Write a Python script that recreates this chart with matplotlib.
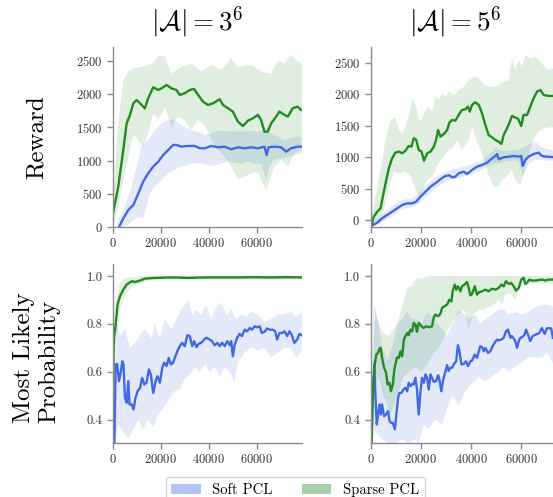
import numpy as np
import matplotlib
matplotlib.use('Agg')
import matplotlib.pyplot as plt
from matplotlib.patches import Patch

plt.rcParams['font.family'] = 'serif'
plt.rcParams['font.serif'] = ['cmr10']
plt.rcParams['mathtext.fontset'] = 'cm'
plt.rcParams['axes.formatter.use_mathtext'] = True

BLUE = 'royalblue'
GREEN = 'forestgreen'

# ---- Reward, |A| = 3^6 ----
r3_sparse_x = [0, 2200, 4300, 5700, 7100, 8500, 9900, 11300, 13300, 14700, 16800, 18900, 20300, 22400, 24400,
               26500, 27900, 30000, 32100, 33900, 35600, 37600, 39700, 41800, 44600, 46000, 48100, 50100, 52200,
               54300, 56400, 58500, 60600, 61900, 63300, 64700, 66100, 68200, 69600, 71700, 73100, 75100, 77200, 78600]
r3_sparse_y = [206, 607, 1160, 1561, 1687, 1862, 1912, 1862, 1787, 1938, 2103, 2063, 2088, 2138, 2088,
               2063, 1988, 2013, 2063, 2078, 1988, 1887, 1837, 1862, 1923, 1837, 1787, 1737, 1586,
               1521, 1601, 1637, 1687, 1611, 1436, 1436, 1561, 1662, 1737, 1687, 1662, 1787, 1812, 1762]
r3_sparse_hi_x = [0, 2200, 4300, 6400, 8500, 11900, 16100, 19600, 21700, 24400, 28600, 32800, 36900, 41100, 45300,
                  49400, 52200, 57800, 61900, 66100, 68900, 71700, 74400, 77200, 78900]
r3_sparse_hi_y = [400, 1560, 2210, 2340, 2390, 2410, 2460, 2590, 2565, 2310, 2410, 2460, 2340, 2440, 2360,
                  2540, 2410, 2440, 2340, 2310, 2515, 2460, 2590, 2490, 2460]
r3_sparse_lo_x = [0, 2200, 4300, 6400, 7800, 9200, 10600, 12600, 14700, 16800, 18900, 21700, 24400, 27200, 30000,
                  32800, 35600, 38300, 41100, 43900, 46700, 49400, 52200, 55000, 57800, 60600, 62600, 64000, 65400,
                  67500, 70300, 73100, 75800, 78900]
r3_sparse_lo_y = [0, 306, 708, 1060, 1310, 1385, 1285, 1210, 1410, 1710, 1610, 1810, 1510, 1660, 1610,
                  1460, 1610, 1540, 1310, 1160, 1060, 910, 710, 760, 810, 830, 660, 560, 710,
                  910, 1010, 910, 1110, 1160]

r3_soft_x = [2500, 4300, 6400, 8500, 10600, 12600, 14700, 16800, 18900, 21000, 23100, 25100, 26500, 28600, 31400,
             34200, 36300, 38300, 41100, 43900, 46700, 49400, 52200, 55000, 57800, 60600, 63300, 64200, 65000,
             67500, 70300, 72400, 74400, 77200, 78900]
r3_soft_y = [0, 130, 256, 331, 507, 683, 808, 909, 984, 1084, 1160, 1235, 1235, 1210, 1220,
             1220, 1185, 1185, 1220, 1200, 1210, 1170, 1200, 1185, 1200, 1185, 1210, 1084, 1200,
             1210, 1200, 1134, 1185, 1210, 1210]
r3_soft_hi_x = [2200, 5000, 7800, 9900, 11900, 14700, 17500, 20300, 23100, 25100, 27200, 30000, 32800, 35600, 38300,
                41100, 43900, 46700, 49400, 52200, 55000, 57800, 60600, 63300, 66100, 68900, 71700, 74400, 77200, 78900]
r3_soft_hi_y = [105, 306, 607, 909, 1210, 1310, 1461, 1561, 1611, 1621, 1561, 1501, 1461, 1436, 1385,
                1410, 1451, 1451, 1436, 1436, 1436, 1451, 1436, 1461, 1410, 1360, 1310, 1335, 1360, 1360]
r3_soft_lo_x = [2200, 5000, 7800, 10600, 12600, 14000, 15400, 17500, 20300, 23100, 25800, 28600, 31400, 34200, 36900,
                39700, 42500, 45300, 48100, 50800, 53600, 56400, 59200, 61900, 64000, 65400, 67500, 70300, 73100,
                75800, 78900]
r3_soft_lo_y = [0, 0, 80, 155, 130, 306, 507, 607, 708, 808, 858, 909, 934, 959, 959,
                934, 919, 959, 984, 969, 949, 984, 949, 959, 708, 934, 1009, 1034, 1059,
                1084, 1109]

# ---- Reward, |A| = 5^6 ----
r5_sparse_x = [400, 1300, 2700, 4000, 4900, 6000, 7300, 8600, 9900, 11300, 12600, 13900, 15200, 16300, 17200,
               18200, 19200, 20300, 21300, 22500, 23900, 25200, 26100, 26900, 27800, 29200, 30500, 31400, 32500,
               33800, 35100, 36400, 37800, 38800, 39500, 40400, 41700, 43100, 44400, 45700, 47000, 48400, 49700,
               51000, 52100, 53000, 54300, 55300, 56300, 57400, 58700, 60000, 60900, 62300, 63600, 64900, 66300,
               67600, 68900, 70900, 72600, 73500]
r5_sparse_y = [-80, 53, 133, 186, 371, 583, 822, 981, 1071, 1087, 1060, 1102, 1177, 1166, 1299,
               1272, 1113, 1087, 943, 1060, 1087, 1166, 1272, 1431, 1325, 1367, 1431, 1548, 1590,
               1579, 1670, 1749, 1760, 1802, 1722, 1829, 1871, 1829, 1696, 1510, 1351, 1314, 1272,
               1245, 1208, 1351, 1457, 1548, 1654, 1632, 1611, 1495, 1670, 1670, 1802, 1934, 2040,
               2067, 1988, 1972, 1972, 1972]
r5_sparse_hi_x = [400, 2000, 4000, 6000, 8000, 9900, 11300, 12600, 13900, 15200, 16600, 17900, 19200, 20500, 21900,
                  23200, 24500, 25800, 27200, 28500, 29800, 31100, 33100, 35100, 37100, 39100, 41700, 43700, 45700,
                  47700, 49700, 52300, 55000, 56300, 57600, 59000, 60300, 61600, 63600, 65600, 68200, 70200, 73500]
r5_sparse_hi_y = [53, 371, 795, 1272, 1590, 1632, 1431, 1378, 1484, 1643, 1935, 1855, 1590, 1590, 1749,
                  1802, 1722, 1961, 1908, 2014, 1961, 2040, 1988, 2067, 2120, 2226, 2279, 2226, 2146,
                  2120, 2120, 2173, 2226, 2570, 2385, 2544, 2438, 2623, 2570, 2597, 2491, 2385, 2411]
r5_sparse_lo_x = [400, 3300, 5300, 7300, 9300, 11300, 13300, 15200, 16600, 17900, 19200, 20500, 22500, 24500, 25800,
                  27800, 29800, 31100, 32500, 34500, 36400, 39100, 40400, 42400, 44400, 46400, 47700, 49000, 51000,
                  52300, 54300, 56300, 57600, 59600, 61600, 62900, 64900, 66900, 68900, 70900, 73500]
r5_sparse_lo_y = [-100, 0, 159, 530, 769, 742, 769, 742, 636, 477, 371, 424, 636, 689, 795,
                  954, 1034, 1113, 1140, 1272, 1113, 1272, 1484, 1245, 1060, 795, 636, 530, 530,
                  636, 689, 795, 636, 557, 795, 1060, 1272, 1404, 1457, 1473, 1473]

r5_soft_x = [700, 2700, 4600, 6600, 8600, 10600, 12600, 14600, 16600, 18200, 19900, 21900, 23900, 25800, 27800,
             29800, 31400, 32500, 33800, 35100, 37100, 38400, 40400, 42400, 44400, 46400, 48400, 49700, 50400,
             51000, 53000, 55000, 57000, 59000, 60000, 60600, 61600, 62900, 64900, 66900, 68200, 70200, 73500]
r5_soft_y = [-85, -42, 26, 80, 132, 186, 239, 265, 265, 292, 371, 450, 530, 583, 647,
             700, 710, 678, 689, 742, 769, 731, 795, 848, 875, 912, 981, 1018, 1050,
             965, 997, 1007, 1018, 1007, 1018, 859, 954, 1007, 1050, 1071, 1018, 1007, 997]
r5_soft_hi_x = [700, 4600, 8600, 12600, 16600, 19900, 23900, 27800, 31400, 35100, 40400, 44400, 48400, 49700, 52300,
                55000, 59000, 62900, 65600, 68200, 73500]
r5_soft_hi_y = [-50, 100, 220, 320, 340, 450, 620, 730, 790, 830, 880, 950, 1080, 1150, 1100,
                1100, 1110, 1200, 1250, 1150, 1100]
r5_soft_lo_x = [700, 4600, 8600, 12600, 16600, 19900, 23900, 27800, 31400, 35100, 40400, 44400, 48400, 51000, 55000,
                59000, 60600, 62900, 65600, 68200, 73500]
r5_soft_lo_y = [-110, -40, 60, 170, 200, 280, 430, 560, 630, 670, 720, 800, 880, 900, 940,
                930, 700, 900, 960, 950, 940]

# ---- Most likely probability, |A| = 3^6 ----
p3_sparse_x = [0, 400, 1100, 1900, 2900, 4300, 5700, 7800, 9200, 11300, 13300, 17500, 24400, 31400, 38300,
               45300, 52200, 59200, 66100, 73100, 78900]
p3_sparse_y = [0.561, 0.742, 0.797, 0.881, 0.915, 0.943, 0.964, 0.978, 0.975, 0.981, 0.989, 0.992, 0.994, 0.992, 0.994,
               0.994, 0.994, 0.995, 0.994, 0.995, 0.994]
p3_sparse_hi_x = [0, 1100, 2900, 5000, 7800, 12000, 78900]
p3_sparse_hi_y = [0.75, 0.88, 0.97, 0.99, 0.995, 1.0, 1.0]
p3_sparse_lo_x = [0, 1100, 2900, 5000, 7800, 10600, 14700, 20000, 78900]
p3_sparse_lo_y = [0.45, 0.72, 0.86, 0.92, 0.955, 0.965, 0.98, 0.985, 0.985]

p3_soft_x = [600, 1100, 1700, 2500, 3300, 3900, 4400, 5000, 5700, 6400, 6900, 7800, 8600, 9400, 10300,
             11300, 12200, 13100, 14000, 15000, 15800, 16800, 17800, 18600, 19600, 20600, 21400, 22400, 23300,
             24200, 25100, 26100, 26900, 27900, 28900, 30000, 31100, 32100, 33100, 33900, 34900, 35800, 36900,
             38100, 39000, 40400, 41400, 42500, 43600, 44600, 45600, 46700, 47800, 48800, 49400, 50100, 50800,
             51900, 52900, 53900, 55000, 56100, 57100, 58100, 59200, 60300, 61300, 62200, 63300, 64400, 65400,
             66800, 67800, 68600, 69600, 70600, 71700, 72800, 73800, 74700, 75800, 77000, 77900, 78900]
p3_soft_y = [0.304, 0.631, 0.633, 0.561, 0.603, 0.644, 0.631, 0.492, 0.471, 0.561, 0.464, 0.464, 0.443, 0.492, 0.519,
             0.533, 0.575, 0.547, 0.554, 0.610, 0.589, 0.512, 0.561, 0.582, 0.554, 0.617, 0.638, 0.624, 0.658,
             0.631, 0.638, 0.665, 0.686, 0.707, 0.721, 0.707, 0.753, 0.749, 0.707, 0.728, 0.703, 0.717, 0.721,
             0.735, 0.742, 0.735, 0.728, 0.711, 0.721, 0.707, 0.721, 0.707, 0.728, 0.711, 0.728, 0.665, 0.711,
             0.742, 0.758, 0.749, 0.776, 0.769, 0.783, 0.776, 0.790, 0.786, 0.790, 0.762, 0.767, 0.781, 0.776,
             0.776, 0.769, 0.735, 0.762, 0.762, 0.769, 0.749, 0.769, 0.755, 0.721, 0.735, 0.758, 0.753]
p3_soft_hi_x = [600, 1500, 2900, 5000, 7100, 9200, 11300, 13300, 16100, 17500, 19600, 21700, 24400, 26500, 28600,
                31400, 33100, 34900, 36900, 39000, 41100, 43200, 45300, 47400, 49400, 51500, 53600, 55700, 57800,
                60600, 63300, 66100, 68900, 71700, 74400, 76500, 78900]
p3_soft_hi_y = [0.45, 0.80, 0.75, 0.78, 0.70, 0.72, 0.75, 0.78, 0.74, 0.80, 0.74, 0.82, 0.78, 0.82, 0.86,
                0.90, 0.84, 0.86, 0.84, 0.88, 0.82, 0.87, 0.89, 0.84, 0.86, 0.82, 0.84, 0.83, 0.85,
                0.84, 0.81, 0.82, 0.84, 0.84, 0.85, 0.83, 0.85]
p3_soft_lo_x = [600, 2200, 4300, 6400, 8500, 10600, 12600, 14700, 16800, 18900, 21000, 23100, 25800, 27900, 30000,
                32100, 34200, 36300, 38300, 40400, 42500, 44600, 46700, 48800, 50800, 52200, 55000, 57800, 60600,
                63300, 66100, 68900, 71700, 74400, 76500, 78900]
p3_soft_lo_y = [0.30, 0.38, 0.35, 0.32, 0.36, 0.40, 0.36, 0.40, 0.37, 0.42, 0.45, 0.48, 0.52, 0.53, 0.57,
                0.59, 0.62, 0.60, 0.63, 0.60, 0.62, 0.58, 0.62, 0.60, 0.56, 0.64, 0.68, 0.70, 0.69,
                0.70, 0.66, 0.68, 0.70, 0.70, 0.66, 0.69]

# ---- Most likely probability, |A| = 5^6 ----
p5_sparse_x = [400, 900, 1700, 2300, 3000, 3600, 4100, 4600, 5400, 6200, 6800, 7600, 8100, 8900, 9400,
               9900, 10600, 11300, 11900, 12600, 13300, 13900, 14600, 15200, 15900, 16600, 17200, 17900, 18500,
               19200, 20300, 21200, 22100, 23200, 24500, 25200, 25800, 26900, 27800, 28500, 29500, 30500, 31400,
               32200, 32700, 33500, 34100, 34800, 35800, 36400, 37400, 38400, 39100, 39700, 40400, 41500, 42400,
               43300, 44400, 45700, 47000, 48400, 49700, 51000, 52100, 53000, 53900, 55000, 56000, 57000, 57900,
               59000, 60000, 61000, 61600, 62300, 63200, 64200, 65600, 66900, 68200, 69600, 70900, 72600]
p5_sparse_y = [0.304, 0.519, 0.631, 0.672, 0.679, 0.697, 0.700, 0.658, 0.617, 0.596, 0.547, 0.554, 0.519, 0.547, 0.603,
               0.631, 0.661, 0.658, 0.686, 0.665, 0.735, 0.749, 0.762, 0.753, 0.776, 0.769, 0.804, 0.797, 0.767,
               0.804, 0.790, 0.783, 0.790, 0.786, 0.790, 0.828, 0.839, 0.832, 0.842, 0.867, 0.874, 0.881, 0.901,
               0.894, 0.936, 0.964, 0.943, 0.957, 0.936, 0.957, 0.964, 0.975, 0.950, 0.919, 0.925, 0.957, 0.922,
               0.933, 0.936, 0.943, 0.936, 0.947, 0.943, 0.950, 0.964, 0.957, 0.978, 0.967, 0.971, 0.957, 0.939,
               0.950, 0.985, 0.992, 0.967, 0.971, 0.985, 0.981, 0.981, 0.983, 0.985, 0.981, 0.985, 0.985]
p5_sparse_hi_x = [400, 1300, 2000, 2700, 4000, 5300, 7300, 9300, 11300, 13300, 14600, 16600, 17900, 20500, 23200, 73500]
p5_sparse_hi_y = [0.35, 0.72, 0.85, 0.82, 0.78, 0.76, 0.75, 0.78, 0.82, 0.90, 0.95, 0.96, 0.99, 0.99, 1.0, 1.0]
p5_sparse_lo_x = [400, 1300, 2300, 3300, 4600, 6600, 7900, 9300, 11300, 13300, 15200, 17900, 20500, 23200, 25200,
                  27200, 29100, 31100, 33100, 35100, 37100, 39100, 41100, 43100, 45100, 47000, 49000, 51000, 52300,
                  53700, 55600, 57600, 59000, 60300, 62900, 65600, 68200, 73500]
p5_sparse_lo_y = [0.30, 0.48, 0.55, 0.58, 0.52, 0.46, 0.42, 0.46, 0.52, 0.58, 0.60, 0.62, 0.60, 0.64, 0.68,
                  0.70, 0.74, 0.78, 0.82, 0.84, 0.86, 0.78, 0.84, 0.86, 0.86, 0.87, 0.88, 0.90, 0.88,
                  0.92, 0.93, 0.90, 0.94, 0.96, 0.97, 0.97, 0.97, 0.97]

p5_soft_x = [400, 900, 1500, 2000, 2500, 3000, 3600, 4100, 4600, 5400, 6200, 7000, 7600, 8300, 8900,
             9700, 10300, 11000, 11500, 12300, 13100, 13900, 14600, 15200, 15900, 16600, 17200, 17900, 18500,
             19200, 19900, 20500, 21200, 21900, 22500, 23200, 23900, 24500, 25200, 26100, 26900, 27400, 28200,
             28800, 29500, 30500, 31100, 31800, 32500, 33100, 34100, 34800, 35400, 36200, 37100, 38000, 38800,
             39800, 40400, 41500, 42400, 43100, 43700, 44400, 45100, 45700, 46800, 47700, 48600, 49400, 50400,
             51000, 52100, 53000, 53900, 54700, 55700, 56300, 57000, 57600, 58300, 59000, 59600, 60300, 61300,
             61900, 62700, 63600, 64500, 65300, 66300, 67200, 68200, 69300, 70200, 70900, 71900, 72600]
p5_soft_y = [0.304, 0.492, 0.631, 0.492, 0.381, 0.422, 0.464, 0.422, 0.464, 0.415, 0.422, 0.436, 0.394, 0.387, 0.387,
             0.360, 0.422, 0.492, 0.512, 0.512, 0.526, 0.533, 0.519, 0.554, 0.540, 0.550, 0.547, 0.575, 0.526,
             0.422, 0.519, 0.575, 0.554, 0.589, 0.575, 0.526, 0.589, 0.575, 0.558, 0.561, 0.586, 0.568, 0.519,
             0.561, 0.589, 0.628, 0.603, 0.617, 0.617, 0.631, 0.644, 0.711, 0.686, 0.631, 0.633, 0.644, 0.624,
             0.644, 0.647, 0.672, 0.658, 0.686, 0.707, 0.703, 0.686, 0.700, 0.679, 0.686, 0.707, 0.721, 0.735,
             0.731, 0.735, 0.742, 0.769, 0.776, 0.742, 0.749, 0.739, 0.728, 0.700, 0.728, 0.742, 0.744, 0.755,
             0.776, 0.755, 0.728, 0.749, 0.753, 0.758, 0.762, 0.783, 0.758, 0.781, 0.783, 0.781, 0.742]
p5_soft_hi_x = [400, 1100, 2000, 3300, 4600, 6600, 8600, 10600, 12600, 14600, 16600, 18500, 20500, 22500, 24500,
                26500, 28500, 30500, 32500, 35100, 37100, 39100, 41700, 43700, 45700, 48400, 51000, 53000, 55000,
                57600, 60300, 62900, 65600, 68200, 70200, 73500]
p5_soft_hi_y = [0.40, 0.88, 0.86, 0.80, 0.70, 0.65, 0.70, 0.80, 0.82, 0.85, 0.82, 0.82, 0.80, 0.85, 0.83,
                0.80, 0.78, 0.75, 0.80, 0.86, 0.84, 0.82, 0.84, 0.80, 0.82, 0.84, 0.86, 0.86, 0.84,
                0.85, 0.84, 0.85, 0.87, 0.88, 0.88, 0.87]
p5_soft_lo_x = [400, 2000, 4600, 7300, 9900, 12600, 15200, 17900, 19200, 21200, 23200, 25800, 28500, 30500, 32500,
                35100, 37800, 40400, 43100, 45700, 48400, 51000, 53000, 55000, 57600, 60300, 62900, 65600, 68200,
                70200, 73500]
p5_soft_lo_y = [0.30, 0.35, 0.32, 0.30, 0.30, 0.32, 0.30, 0.32, 0.30, 0.38, 0.36, 0.40, 0.38, 0.45, 0.50,
                0.46, 0.52, 0.55, 0.58, 0.56, 0.58, 0.60, 0.62, 0.60, 0.62, 0.64, 0.66, 0.66, 0.66,
                0.68, 0.62]

titles = [r'$|\mathcal{A}| = 3^6$', r'$|\mathcal{A}| = 5^6$']
row_labels = ['Reward', 'Most Likely\nProbability']
legend_labels = ['Soft PCL', 'Sparse PCL']
x_ticks = [0, 20000, 40000, 60000]

W, H = 553, 497
fig = plt.figure(figsize=(W / 100, H / 100), dpi=100)


def box(l, r, t, b):
    return [l / W, 1 - b / H, (r - l) / W, (b - t) / H]


ax_r3 = fig.add_axes(box(113, 302, 47, 227))
ax_r5 = fig.add_axes(box(370.5, 569, 47, 227))
ax_p3 = fig.add_axes(box(113, 302, 264, 443))
ax_p5 = fig.add_axes(box(370.5, 569, 264, 443))


def band(ax, hx, hy, lx, ly, color):
    xs = np.concatenate([hx, lx[::-1]])
    ys = np.concatenate([hy, ly[::-1]])
    ax.fill(xs, ys, color=color, alpha=0.14, lw=0)


panels = [
    (ax_r3, (r3_soft_x, r3_soft_y, r3_soft_hi_x, r3_soft_hi_y, r3_soft_lo_x, r3_soft_lo_y),
     (r3_sparse_x, r3_sparse_y, r3_sparse_hi_x, r3_sparse_hi_y, r3_sparse_lo_x, r3_sparse_lo_y)),
    (ax_r5, (r5_soft_x, r5_soft_y, r5_soft_hi_x, r5_soft_hi_y, r5_soft_lo_x, r5_soft_lo_y),
     (r5_sparse_x, r5_sparse_y, r5_sparse_hi_x, r5_sparse_hi_y, r5_sparse_lo_x, r5_sparse_lo_y)),
    (ax_p3, (p3_soft_x, p3_soft_y, p3_soft_hi_x, p3_soft_hi_y, p3_soft_lo_x, p3_soft_lo_y),
     (p3_sparse_x, p3_sparse_y, p3_sparse_hi_x, p3_sparse_hi_y, p3_sparse_lo_x, p3_sparse_lo_y)),
    (ax_p5, (p5_soft_x, p5_soft_y, p5_soft_hi_x, p5_soft_hi_y, p5_soft_lo_x, p5_soft_lo_y),
     (p5_sparse_x, p5_sparse_y, p5_sparse_hi_x, p5_sparse_hi_y, p5_sparse_lo_x, p5_sparse_lo_y)),
]

for ax, soft, sparse in panels:
    band(ax, np.array(soft[2]), np.array(soft[3]), np.array(soft[4]), np.array(soft[5]), BLUE)
    band(ax, np.array(sparse[2]), np.array(sparse[3]), np.array(sparse[4]), np.array(sparse[5]), GREEN)
    ax.plot(soft[0], soft[1], color=BLUE, lw=1.7)
    ax.plot(sparse[0], sparse[1], color=GREEN, lw=1.7)
    ax.set_xlim(0, 79000)
    ax.set_xticks(x_ticks)
    ax.spines['top'].set_visible(False)
    ax.spines['right'].set_visible(False)
    for s in ['left', 'bottom']:
        ax.spines[s].set_color('#8c8c8c')
        ax.spines[s].set_linewidth(1.0)
    ax.tick_params(colors='#8c8c8c', labelcolor='#333333', labelsize=9, length=4, width=1.0)

ax_r3.set_ylim(0, 2710)
ax_r5.set_ylim(-111, 2750)
for ax in (ax_r3, ax_r5):
    ax.set_yticks([0, 500, 1000, 1500, 2000, 2500])
for ax in (ax_p3, ax_p5):
    ax.set_ylim(0.303, 1.05)
    ax.set_yticks([0.4, 0.6, 0.8, 1.0])
    ax.set_yticklabels(['0.4', '0.6', '0.8', '1.0'])

fig.text(197 / W, 1 - 22 / H, titles[0], ha='center', va='center', fontsize=19.5)
fig.text(455 / W, 1 - 22 / H, titles[1], ha='center', va='center', fontsize=19.5)
fig.text(37 / W, 1 - 137.5 / H, row_labels[0], ha='center', va='center', rotation=90, fontsize=18)
fig.text(36.5 / W, 1 - 423 / H, row_labels[1], ha='center', va='bottom', rotation=90, fontsize=18,
         multialignment='left', linespacing=1.2)

handles = [Patch(facecolor=BLUE, alpha=0.4, lw=0), Patch(facecolor=GREEN, alpha=0.4, lw=0)]
fig.legend(handles, legend_labels, loc='upper center', bbox_to_anchor=(295 / W, 1 - 477 / H), ncol=2,
           fontsize=10.5, frameon=True, edgecolor='#cccccc', borderaxespad=0)

fig.savefig('out.png', dpi=100)
